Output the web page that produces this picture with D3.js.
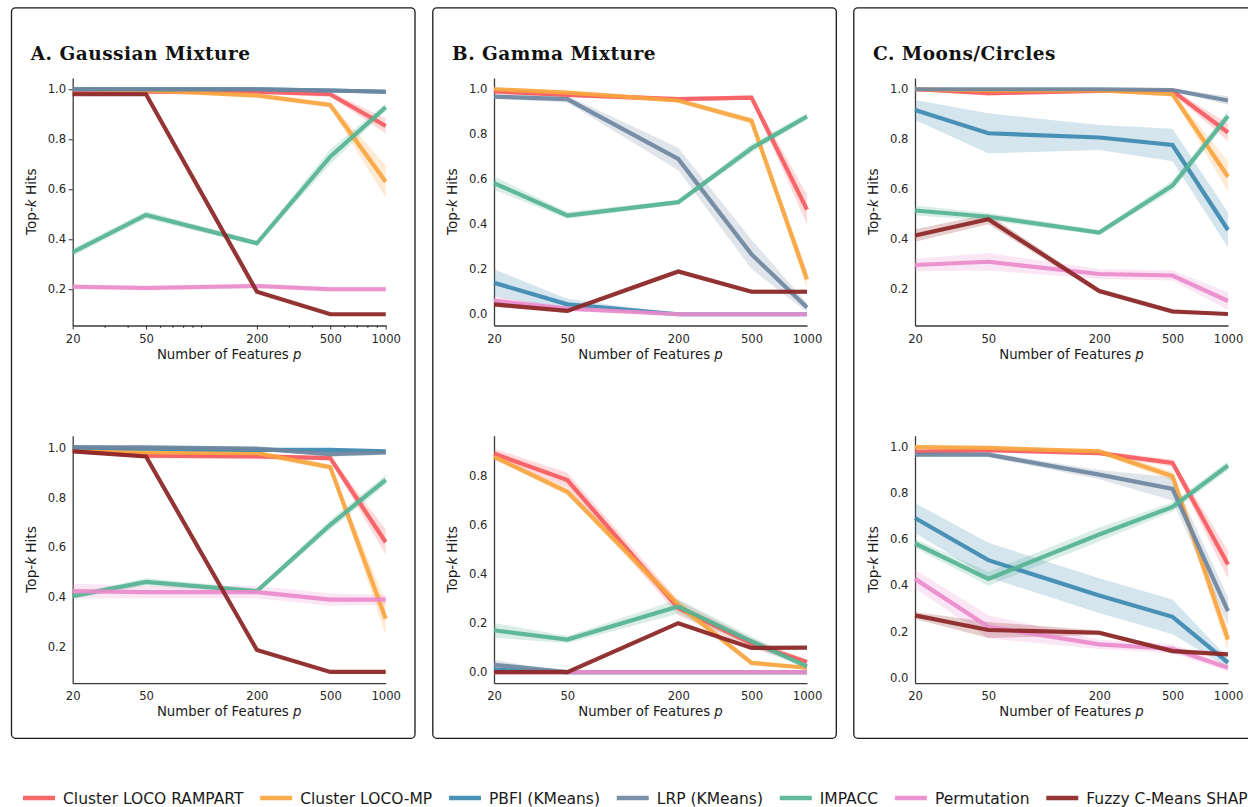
<!DOCTYPE html>
<html>
<head>
<meta charset="utf-8">
<script src="https://cdn.jsdelivr.net/npm/d3@7"></script>
<style>
  body { margin: 0; background: #fff; }
  text { font-family: "DejaVu Sans", sans-serif; }
</style>
</head>
<body>
<div id="chart"></div>
<script>

// x values (number of features p), log scale
var featureCounts = [20, 50, 200, 500, 1000];
var minorCounts = [30, 40, 60, 70, 80, 90, 100, 300, 400, 600, 700, 800, 900];

var methods = ["Cluster LOCO RAMPART", "Cluster LOCO-MP", "PBFI (KMeans)", "LRP (KMeans)",
               "IMPACC", "Permutation", "Fuzzy C-Means SHAP"];
var methodColors = ["#f65a5e", "#f9a43e", "#3c89b0", "#6e87a0", "#55b392", "#e98bcb", "#8b2525"];

var panelTitles = ["A. Gaussian Mixture", "B. Gamma Mixture", "C. Moons/Circles"];
var yTickValues = [0, 0.2, 0.4, 0.6, 0.8, 1.0];

// means, one row per method (legend order), columns = featureCounts
var gaussTop = [
  [0.99, 0.99, 0.99, 0.98, 0.853],
  [1.0, 0.995, 0.975, 0.937, 0.63],
  [1.0, 1.0, 1.0, 0.995, 0.99],
  [1.0, 1.0, 1.0, 0.995, 0.99],
  [0.348, 0.497, 0.384, 0.73, 0.928],
  [0.21, 0.205, 0.213, 0.2, 0.2],
  [0.98, 0.98, 0.19, 0.10, 0.10]
];
var gaussTopErr = [
  [0.01, 0.01, 0.01, 0.01, 0.03],
  [0.005, 0.005, 0.01, 0.01, 0.065],
  [0.003, 0.003, 0.003, 0.003, 0.003],
  [0.003, 0.003, 0.003, 0.003, 0.003],
  [0.015, 0.015, 0.01, 0.03, 0.015],
  [0.01, 0.01, 0.01, 0.01, 0.01],
  [0.005, 0.005, 0.005, 0.005, 0.005]
];

var gammaTop = [
  [0.99, 0.975, 0.956, 0.963, 0.465],
  [1.0, 0.985, 0.95, 0.86, 0.155],
  [0.14, 0.044, 0.0, 0.0, 0.0],
  [0.967, 0.956, 0.69, 0.266, 0.03],
  [0.583, 0.439, 0.498, 0.738, 0.879],
  [0.06, 0.025, 0.0, 0.0, 0.0],
  [0.044, 0.015, 0.19, 0.1, 0.1]
];
var gammaTopErr = [
  [0.01, 0.01, 0.01, 0.01, 0.065],
  [0.01, 0.01, 0.01, 0.015, 0.04],
  [0.06, 0.025, 0.0, 0.0, 0.0],
  [0.01, 0.015, 0.05, 0.065, 0.02],
  [0.03, 0.015, 0.01, 0.02, 0.015],
  [0.02, 0.01, 0.0, 0.0, 0.0],
  [0.01, 0.01, 0.01, 0.01, 0.01]
];

var moonsTop = [
  [1.0, 0.984, 0.993, 0.993, 0.827],
  [1.0, 0.995, 0.995, 0.98, 0.65],
  [0.917, 0.824, 0.807, 0.777, 0.437],
  [1.0, 1.0, 1.0, 0.997, 0.955],
  [0.515, 0.49, 0.427, 0.615, 0.893],
  [0.297, 0.31, 0.261, 0.255, 0.153],
  [0.415, 0.48, 0.193, 0.111, 0.101]
];
var moonsTopErr = [
  [0.005, 0.01, 0.005, 0.01, 0.035],
  [0.005, 0.01, 0.005, 0.01, 0.06],
  [0.04, 0.08, 0.05, 0.065, 0.07],
  [0.003, 0.003, 0.003, 0.005, 0.017],
  [0.02, 0.015, 0.01, 0.02, 0.02],
  [0.025, 0.035, 0.02, 0.02, 0.035],
  [0.025, 0.02, 0.01, 0.01, 0.005]
];

var gaussBottom = [
  [0.987, 0.967, 0.964, 0.957, 0.62],
  [1.0, 0.98, 0.977, 0.921, 0.313],
  [1.0, 0.995, 0.99, 0.99, 0.984],
  [1.0, 1.0, 0.995, 0.973, 0.98],
  [0.404, 0.461, 0.424, 0.69, 0.87],
  [0.424, 0.42, 0.42, 0.39, 0.39],
  [0.984, 0.964, 0.188, 0.10, 0.10]
];
var gaussBottomErr = [
  [0.01, 0.01, 0.01, 0.01, 0.05],
  [0.01, 0.01, 0.01, 0.01, 0.065],
  [0.005, 0.005, 0.005, 0.005, 0.01],
  [0.005, 0.005, 0.005, 0.01, 0.01],
  [0.01, 0.015, 0.01, 0.02, 0.02],
  [0.03, 0.025, 0.025, 0.025, 0.02],
  [0.005, 0.005, 0.005, 0.005, 0.005]
];

var gammaBottom = [
  [0.892, 0.784, 0.262, 0.117, 0.042],
  [0.879, 0.736, 0.275, 0.038, 0.018],
  [0.01, 0.0, 0.0, 0.0, 0.0],
  [0.03, 0.0, 0.0, 0.0, 0.0],
  [0.171, 0.133, 0.268, 0.126, 0.024],
  [0.0, 0.0, 0.0, 0.0, 0.0],
  [0.0, 0.0, 0.2, 0.099, 0.1]
];
var gammaBottomErr = [
  [0.02, 0.03, 0.03, 0.02, 0.01],
  [0.01, 0.015, 0.02, 0.01, 0.005],
  [0.01, 0.0, 0.0, 0.0, 0.0],
  [0.02, 0.0, 0.0, 0.0, 0.0],
  [0.03, 0.015, 0.03, 0.02, 0.01],
  [0.0, 0.0, 0.0, 0.0, 0.0],
  [0.003, 0.003, 0.005, 0.005, 0.005]
];

var moonsBottom = [
  [0.976, 0.983, 0.971, 0.928, 0.489],
  [0.997, 0.993, 0.978, 0.871, 0.165],
  [0.69, 0.508, 0.355, 0.263, 0.065],
  [0.964, 0.964, 0.878, 0.816, 0.288],
  [0.58, 0.427, 0.619, 0.738, 0.917],
  [0.427, 0.22, 0.144, 0.125, 0.043],
  [0.269, 0.206, 0.194, 0.115, 0.101]
];
var moonsBottomErr = [
  [0.01, 0.01, 0.01, 0.015, 0.06],
  [0.005, 0.005, 0.01, 0.02, 0.05],
  [0.065, 0.075, 0.075, 0.075, 0.02],
  [0.01, 0.01, 0.02, 0.05, 0.06],
  [0.02, 0.03, 0.03, 0.02, 0.02],
  [0.04, 0.05, 0.02, 0.02, 0.015],
  [0.015, 0.035, 0.01, 0.01, 0.005]
];

// panel layout
var W = 1248, H = 807;
var colLeft = [72.7, 494, 915];      // left spine x of each column
var rowTop = [78, 435.7];            // top of y axis for each row
var plotW = 313, plotH = 247.5;

var panels = [
  {col: 0, row: 0, means: gaussTop, errs: gaussTopErr, domain: [0.055, 1.045], ticks: true},
  {col: 1, row: 0, means: gammaTop, errs: gammaTopErr, domain: [-0.05, 1.05]},
  {col: 2, row: 0, means: moonsTop, errs: moonsTopErr, domain: [0.055, 1.045]},
  {col: 0, row: 1, means: gaussBottom, errs: gaussBottomErr, domain: [0.055, 1.047]},
  {col: 1, row: 1, means: gammaBottom, errs: gammaBottomErr, domain: [-0.045, 0.965]},
  {col: 2, row: 1, means: moonsBottom, errs: moonsBottomErr, domain: [-0.024, 1.046]}
];

var svg = d3.select("#chart")
  .append("svg")
    .attr("width", W)
    .attr("height", H);

// outer boxes, one per column
panelTitles.forEach(function(t, i) {
  svg.append("rect")
    .attr("x", colLeft[i] - 61.2)
    .attr("y", 7.8)
    .attr("width", 403.5)
    .attr("height", 730.5)
    .attr("rx", 4)
    .attr("fill", "none")
    .attr("stroke", "#1a1a1a")
    .attr("stroke-width", 1.3);

  svg.append("text")
    .attr("x", colLeft[i] - 42)
    .attr("y", 60)
    .style("font-family", "'DejaVu Serif', serif")
    .style("font-weight", "bold")
    .style("font-size", "18.5px")
    .style("letter-spacing", "0.5px")
    .attr("fill", "#111")
    .text(t);
});

var x = d3.scaleLog().domain([20, 1000]).range([0, plotW]);

panels.forEach(function(p, pi) {
  var g = svg.append("g")
    .attr("transform", "translate(" + colLeft[p.col] + "," + rowTop[p.row] + ")");

  var y = d3.scaleLinear().domain(p.domain).range([plotH, 0]);

  var tickLen = p.ticks ? 4 : 0;

  var xAxis = g.append("g")
    .attr("transform", "translate(0," + plotH + ")")
    .call(d3.axisBottom(x)
      .tickValues(featureCounts)
      .tickFormat(d3.format("d"))
      .tickSizeOuter(0)
      .tickSizeInner(tickLen)
      .tickPadding(8.8 - tickLen));

  if (p.ticks) {
    xAxis.selectAll(".minor")
      .data(minorCounts)
      .enter()
      .append("line")
        .attr("class", "minor")
        .attr("x1", function(d) { return x(d); })
        .attr("x2", function(d) { return x(d); })
        .attr("y1", 0)
        .attr("y2", 2.5)
        .attr("stroke", "#333")
        .attr("stroke-width", 0.9);
  }

  var yTicks = yTickValues.filter(function(v) { return v >= p.domain[0] && v <= p.domain[1]; });
  var yAxis = g.append("g")
    .call(d3.axisLeft(y)
      .tickValues(yTicks)
      .tickFormat(d3.format(".1f"))
      .tickSizeOuter(0)
      .tickSizeInner(tickLen)
      .tickPadding(6.5 - tickLen));

  [xAxis, yAxis].forEach(function(a) {
    a.select(".domain").attr("stroke", "#3a3a3a").attr("stroke-width", 1.3);
    a.selectAll(".tick line").attr("stroke", "#333").attr("stroke-width", 1);
    a.selectAll(".tick text")
      .style("font-size", "11.6px")
      .attr("fill", "#262626");
  });

  // axis titles
  var yl = g.append("text")
    .attr("transform", "translate(-37," + (plotH / 2) + ") rotate(-90)")
    .attr("text-anchor", "middle")
    .style("font-size", "13.6px")
    .attr("fill", "#1a1a1a");
  yl.append("tspan").text("Top-");
  yl.append("tspan").style("font-style", "italic").text("k");
  yl.append("tspan").text(" Hits");

  var xl = g.append("text")
    .attr("x", plotW / 2)
    .attr("y", plotH + 33)
    .attr("text-anchor", "middle")
    .style("font-size", "13.3px")
    .attr("fill", "#1a1a1a");
  xl.append("tspan").text("Number of Features ");
  xl.append("tspan").style("font-style", "italic").text("p");

  var area = d3.area()
    .x(function(d, i) { return x(featureCounts[i]); })
    .y0(function(d) { return y(d[0] - d[1]); })
    .y1(function(d) { return y(d[0] + d[1]); });

  var line = d3.line()
    .x(function(d, i) { return x(featureCounts[i]); })
    .y(function(d) { return y(d); });

  p.means.forEach(function(m, k) {
    var rows = m.map(function(v, i) { return [v, p.errs[k][i]]; });
    g.append("path")
      .attr("d", area(rows))
      .attr("fill", methodColors[k])
      .attr("fill-opacity", 0.22)
      .attr("stroke", "none");
  });

  p.means.forEach(function(m, k) {
    g.append("path")
      .attr("d", line(m))
      .attr("fill", "none")
      .attr("stroke", methodColors[k])
      .attr("stroke-opacity", 0.92)
      .attr("stroke-width", 4.2)
      .attr("stroke-linejoin", "miter");
  });
});

// legend along the bottom
var legend = svg.append("g").attr("transform", "translate(23,798)");
var lx = 0;
methods.forEach(function(name, i) {
  var item = legend.append("g").attr("transform", "translate(" + lx + ",0)");
  item.append("line")
    .attr("x1", 0).attr("x2", 32)
    .attr("y1", 0).attr("y2", 0)
    .attr("stroke", methodColors[i])
    .attr("stroke-opacity", 0.92)
    .attr("stroke-width", 4.5);
  var t = item.append("text")
    .attr("x", 40)
    .attr("y", 5.6)
    .style("font-size", "15.5px")
    .attr("fill", "#1a1a1a")
    .text(name);
  lx += 40 + t.node().getComputedTextLength() + 16.8;
});

</script>
</body>
</html>
